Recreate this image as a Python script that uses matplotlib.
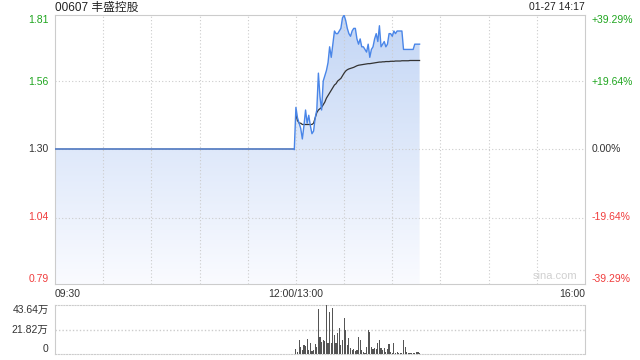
import matplotlib.pyplot as plt
import numpy as np
from matplotlib.patches import Polygon
from matplotlib.colors import LinearSegmentedColormap

plt.rcParams['font.family'] = ['Liberation Sans', 'Noto Sans CJK SC']

titulo = '00607 丰盛控股'
fecha = '01-27 14:17'
pre_close = 1.30
rango = 0.3929

# etiquetas del eje de precios y de porcentaje
precio_ticks = [1.81, 1.56, 1.30, 1.04, 0.79]
precio_labels = ['1.81', '1.56', '1.30', '1.04', '0.79']
pct_labels = ['+39.29%', '+19.64%', '0.00%', '-19.64%', '-39.29%']

# minutos desde las 09:30 (la mañana queda plana en el cierre anterior)
manana_x = [0, 149]
manana_y = [1.30, 1.30]

tarde_x = list(range(150, 228))
precio = [1.46, 1.42, 1.40, 1.38, 1.34, 1.39, 1.45, 1.40, 1.43, 1.39,
          1.36, 1.37, 1.42, 1.45, 1.59, 1.50, 1.45, 1.56, 1.58, 1.60,
          1.63, 1.69, 1.65, 1.70, 1.75, 1.74, 1.74, 1.75, 1.76, 1.80,
          1.81, 1.79, 1.76, 1.74, 1.73, 1.75, 1.76, 1.76, 1.72, 1.70,
          1.72, 1.69, 1.69, 1.68, 1.67, 1.70, 1.65, 1.68, 1.69, 1.72,
          1.74, 1.71, 1.77, 1.69, 1.70, 1.71, 1.69, 1.70, 1.74, 1.74,
          1.73, 1.75, 1.74, 1.75, 1.75, 1.75, 1.75, 1.68, 1.68, 1.68,
          1.68, 1.68, 1.68, 1.68, 1.70, 1.70, 1.70, 1.70]
media = [1.43, 1.41, 1.40, 1.40, 1.395, 1.395, 1.395, 1.395, 1.395, 1.395,
         1.395, 1.40, 1.42, 1.44, 1.45, 1.455, 1.46, 1.47, 1.48, 1.495,
         1.505, 1.515, 1.525, 1.535, 1.545, 1.55, 1.56, 1.565, 1.57, 1.58,
         1.59, 1.598, 1.603, 1.606, 1.608, 1.61, 1.612, 1.615, 1.618, 1.62,
         1.621, 1.622, 1.623, 1.624, 1.625, 1.626, 1.626, 1.627, 1.628, 1.629,
         1.630, 1.631, 1.632, 1.632, 1.633, 1.633, 1.634, 1.634, 1.634, 1.635,
         1.635, 1.635, 1.636, 1.636, 1.636, 1.636, 1.637, 1.637, 1.637, 1.637,
         1.637, 1.638, 1.638, 1.638, 1.638, 1.638, 1.638, 1.638]
volumen = [4.2, 2.0, 12.5, 6.0, 4.0, 8.0, 7.0, 13.0, 4.0, 9.5,
           3.0, 4.0, 9.0, 6.5, 40.0, 15.4, 11.0, 12.5, 12.0, 43.6,
           9.5, 37.7, 10.0, 40.7, 17.0, 9.5, 18.4, 22.9, 8.0, 12.5,
           31.8, 21.4, 8.0, 14.0, 5.0, 3.6, 4.2, 3.0, 3.6, 15.4,
           12.5, 3.6, 2.0, 1.2, 6.5, 21.4, 19.9, 6.5, 4.2, 5.0,
           4.2, 9.5, 12.5, 5.0, 3.6, 5.0, 1.8, 4.2, 9.0, 2.0,
           1.2, 10.0, 1.2, 2.0, 0.6, 1.2, 1.2, 12.5, 6.5, 2.0,
           1.2, 1.2, 0.6, 1.2, 0.9, 1.5, 2.0, 0.5]
vol_max = 43.64
vol_labels = ['43.64万', '21.82万', '0']

verde = '#1ea51e'
rojo = '#f03c3c'
gris = '#cccccc'

fig = plt.figure(figsize=(6.4, 3.6), dpi=100)
ax = fig.add_axes([55/640, 1 - 284/360, 530/640, 269/360])
axv = fig.add_axes([55/640, 1 - 354/360, 530/640, 49/360])

ymin = pre_close * (1 - rango)
ymax = pre_close * (1 + rango)
ax.set_xlim(0, 330)
ax.set_ylim(ymin, ymax)

# relleno degradado bajo la linea
xs = manana_x + tarde_x
ys = manana_y + precio
poly = Polygon(list(zip(xs, ys)) + [(xs[-1], ymin), (xs[0], ymin)], closed=True,
               facecolor='none', edgecolor='none')
ax.add_patch(poly)
grad = np.linspace(0, 1, 256).reshape(-1, 1)
cmap = LinearSegmentedColormap.from_list('g', ['#c3d6f5', '#fafbff'])
im = ax.imshow(grad, cmap=cmap, extent=[0, 330, ymin, ymax], aspect='auto',
               origin='upper', zorder=1)
im.set_clip_path(poly)
ax.set_xlim(0, 330)
ax.set_ylim(ymin, ymax)

ax.plot(tarde_x, media, color='#333333', lw=0.9, zorder=3)
ax.plot(manana_x, manana_y, color='#5a80c4', lw=1.3, zorder=4)
ax.plot([149] + tarde_x, [1.30] + precio, color='#4a86e8', lw=1.0, zorder=4)

# rejilla
for m in range(30, 330, 30):
    ax.axvline(m, color=gris, lw=0.8, ls=(0, (1, 2)), zorder=2)
for p in precio_ticks[1:4]:
    ax.axhline(p, color=gris, lw=0.8, ls=(0, (1, 2)), zorder=2)

for s in ax.spines.values():
    s.set_color(gris)
ax.set_xticks([])
ax.set_yticks([])

colores = [verde, verde, '#333333', rojo, rojo]
for i in range(5):
    p = pre_close * (1 + rango * (1 - i * 0.5))
    va = 'center'
    if i == 0:
        va = 'top'
    if i == 4:
        va = 'bottom'
    ax.text(-4, p, precio_labels[i], color=colores[i], fontsize=7.5, ha='right', va=va)
    ax.text(334, p, pct_labels[i], color=colores[i], fontsize=7.5, ha='left', va=va)

ax.text(0, -0.02, '09:30', transform=ax.get_xaxis_transform(), fontsize=7.5,
        color='#333333', ha='left', va='top')
ax.text(150, -0.02, '12:00/13:00', transform=ax.get_xaxis_transform(), fontsize=7.5,
        color='#333333', ha='center', va='top')
ax.text(330, -0.02, '16:00', transform=ax.get_xaxis_transform(), fontsize=7.5,
        color='#333333', ha='right', va='top')
ax.text(0, 1.028, titulo, transform=ax.transAxes, fontsize=8.5, color='#222222',
        ha='left', va='center')
ax.text(1, 1.028, fecha, transform=ax.transAxes, fontsize=7.5, color='#222222',
        ha='right', va='center')
ax.text(0.985, 0.01, 'sina.com', transform=ax.transAxes, fontsize=8,
        color='#d0d0d0', ha='right', va='bottom', zorder=5)

# volumen
axv.set_xlim(0, 330)
axv.set_ylim(0, vol_max)
axv.bar(tarde_x, volumen, width=0.7, color='#555555', zorder=3)
axv.axhline(vol_max / 2, color=gris, lw=1.0, ls=(0, (1, 1.5)))
axv.set_xticks([])
axv.set_yticks([])
axv.spines['left'].set_color(gris)
axv.spines['right'].set_color(gris)
axv.spines['top'].set_color(gris)
axv.spines['top'].set_linestyle((0, (1, 1.5)))
axv.spines['bottom'].set_color(gris)
axv.spines['bottom'].set_linestyle((0, (1, 1.5)))
axv.text(-4, vol_max, vol_labels[0], fontsize=7.5, color='#333333', ha='right', va='top')
axv.text(-4, vol_max / 2, vol_labels[1], fontsize=7.5, color='#333333',
         ha='right', va='center')
axv.text(-4, 0, vol_labels[2], fontsize=7.5, color='#333333', ha='right', va='bottom')

plt.savefig('out.png', dpi=100)
